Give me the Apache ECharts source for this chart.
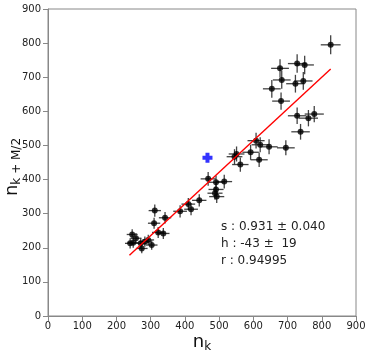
<!DOCTYPE html>
<html>
<head>
<meta charset="utf-8">
<script src="https://cdn.jsdelivr.net/npm/echarts@6/dist/echarts.min.js"></script>
<style>
  html, body { margin: 0; padding: 0; background: #fff; }
  #main { width: 368px; height: 354px; }
</style>
</head>
<body>
<div id="main"></div>
<script>
// measured points (n_k, n_k+M/2) and their errors
var xs = [826, 728, 750, 678, 683, 746, 723, 654, 681, 728, 761, 778, 738, 608, 620, 646, 695, 592, 617, 562,
          545, 551, 468, 491, 515, 491, 488, 493, 442, 418, 410, 386, 312, 310, 342, 322, 337, 246, 257, 240,
          249, 271, 283, 293, 303, 274];
var ys = [795, 740, 736, 726, 692, 689, 681, 666, 630, 587, 580, 592, 540, 514, 502, 496, 493, 480, 458, 444,
          467, 475, 402, 392, 394, 371, 360, 350, 339, 313, 328, 307, 309, 272, 288, 245, 242, 239, 228, 213,
          215, 213, 218, 223, 208, 198];
var xErr = [29, 27, 27, 26, 26, 27, 27, 26, 26, 27, 28, 28, 27, 25, 25, 25, 26, 24, 25, 24,
            23, 23, 22, 22, 23, 22, 22, 22, 21, 20, 20, 20, 18, 18, 18, 18, 18, 16, 16, 15,
            16, 16, 17, 17, 17, 17];
var yErr = [28, 27, 27, 27, 26, 26, 26, 26, 25, 24, 24, 24, 23, 23, 22, 22, 22, 22, 21, 21,
            22, 22, 20, 20, 20, 19, 19, 19, 18, 18, 18, 18, 18, 16, 17, 16, 16, 15, 15, 15,
            15, 15, 15, 15, 14, 14];

// fitted line end points
var fitX = [238, 826];
var fitY = [178, 724];

// highlighted point
var blueX = [466];
var blueY = [464];

var statLines = ['s : 0.931 \u00b1 0.040', 'h : -43 \u00b1  19', 'r : 0.94995'];

var font = 'DejaVu Sans';

var errData = [];
var dotData = [];
for (var i = 0; i < xs.length; i++) {
    errData.push([xs[i], ys[i], xErr[i], yErr[i]]);
    dotData.push([xs[i], ys[i]]);
}

var myChart = echarts.init(document.getElementById('main'));

var axisCommon = {
    type: 'value',
    min: 0,
    max: 900,
    interval: 100,
    splitLine: { show: false },
    axisLine: { show: true, lineStyle: { color: '#888', width: 1 } },
    axisTick: { show: true, length: 5, lineStyle: { color: '#888' } },
    axisLabel: { color: '#222', fontSize: 10, fontFamily: font }
};

// subscript rich text for the axis titles
var subRich = {
    n: { fontSize: 18, fontFamily: font, fill: '#111', lineHeight: 20, verticalAlign: 'top' },
    s: { fontSize: 12, fontFamily: font, fill: '#111', lineHeight: 12, padding: [11, 0, 0, 0], verticalAlign: 'bottom' }
};

var option = {
    backgroundColor: '#fff',
    animation: false,
    grid: {
        left: 48, right: 12, top: 9, bottom: 38,
        containLabel: false,
        outerBoundsMode: 'none',
        show: true, borderColor: '#888', borderWidth: 1
    },
    xAxis: Object.assign({}, axisCommon, {
        axisLabel: Object.assign({}, axisCommon.axisLabel, { margin: 5 })
    }),
    yAxis: Object.assign({}, axisCommon, {
        axisLabel: Object.assign({}, axisCommon.axisLabel, { margin: 7 })
    }),
    series: [
        {
            type: 'custom',
            data: errData,
            renderItem: function (params, api) {
                var x = api.value(0), y = api.value(1);
                var ex = api.value(2), ey = api.value(3);
                var l = api.coord([x - ex, y]);
                var r = api.coord([x + ex, y]);
                var t = api.coord([x, y + ey]);
                var b = api.coord([x, y - ey]);
                var st = { stroke: '#222', lineWidth: 1.3, opacity: 0.85 };
                return {
                    type: 'group',
                    children: [
                        { type: 'line', shape: { x1: l[0], y1: l[1], x2: r[0], y2: r[1] }, style: st },
                        { type: 'line', shape: { x1: t[0], y1: t[1], x2: b[0], y2: b[1] }, style: st }
                    ]
                };
            },
            z: 2
        },
        {
            type: 'scatter',
            data: dotData,
            symbol: 'circle',
            symbolSize: 6,
            itemStyle: { color: '#000' },
            z: 3
        },
        {
            type: 'line',
            data: [[fitX[0], fitY[0]], [fitX[1], fitY[1]]],
            symbol: 'none',
            lineStyle: { color: '#ff0000', width: 1.4 },
            z: 4
        },
        {
            type: 'scatter',
            data: [[blueX[0], blueY[0]]],
            symbol: 'path://M3,0h4v3h3v4h-3v3h-4v-3h-3v-4h3z',
            symbolSize: 10,
            itemStyle: { color: '#0000ff' },
            z: 5
        }
    ],
    graphic: [
        {
            type: 'text',
            left: 221,
            top: 218,
            style: {
                text: statLines.join('\n'),
                font: '12px "DejaVu Sans"',
                fill: '#222',
                lineHeight: 17
            }
        },
        {
            type: 'text',
            x: 202,
            y: 343,
            style: {
                text: '{n|n}{s|k}',
                rich: subRich,
                align: 'center',
                verticalAlign: 'middle'
            }
        },
        {
            type: 'text',
            x: 13,
            y: 167,
            rotation: Math.PI / 2,
            style: {
                text: '{n|n}{s|k + M/2}',
                rich: subRich,
                align: 'center',
                verticalAlign: 'middle'
            }
        }
    ]
};

if (option && typeof option === "object") {
    myChart.setOption(option, true);
}
</script>
</body>
</html>
